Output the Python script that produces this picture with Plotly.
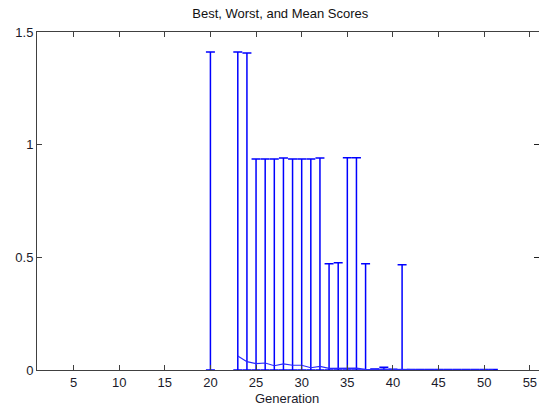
import plotly.graph_objects as go

generations = list(range(20, 52))
mean_score = [0.0, None, None, 0.062, 0.037, 0.028, 0.031, 0.019, 0.027, 0.021, 0.021, 0.010,
              0.016, 0.007, 0.007, 0.008, 0.008, 0.003, 0.002, 0.005, 0.002, 0.003,
              0.001, 0.001, 0.001, 0.001, 0.001, 0.001, 0.001, 0.001, 0.001, 0.001]
best_score = [0.0, None, None] + [0.0] * 29
worst_score = [1.411, None, None, 1.411, 1.407, 0.936, 0.936, 0.936, 0.941, 0.936, 0.936, 0.936,
               0.941, 0.472, 0.476, 0.942, 0.942, 0.472, 0.004, 0.012, 0.003, 0.467,
               0.002, 0.002, 0.002, 0.002, 0.002, 0.002, 0.002, 0.002, 0.002, 0.002]

x_ticks = [5, 10, 15, 20, 25, 30, 35, 40, 45, 50, 55]
y_ticks = [0, 0.5, 1, 1.5]
y_tick_labels = ["0", "0.5", "1", "1.5"]

up = [(w - m) if (w is not None and m is not None) else 0 for w, m in zip(worst_score, mean_score)]
down = [(m - b) if (b is not None and m is not None) else 0 for b, m in zip(best_score, mean_score)]

fig = go.Figure()
fig.add_trace(go.Scatter(
    x=generations, y=mean_score, mode="lines",
    line=dict(color="rgb(40,40,255)", width=1.2),
    connectgaps=False,
    error_y=dict(type="data", symmetric=False, array=up, arrayminus=down,
                 color="rgb(0,0,255)", thickness=1.5, width=4.5),
    showlegend=False,
))
# invisible trace to carry the right-hand y ticks
fig.add_trace(go.Scatter(x=[1], y=[0], yaxis="y2", mode="markers",
                         marker=dict(opacity=0), showlegend=False, hoverinfo="skip"))

axis_font = dict(family="Liberation Sans, Arial, sans-serif", size=13, color="#1a1a2a")
fig.update_layout(
    width=539, height=407,
    margin=dict(l=37, r=0, t=32, b=37),
    paper_bgcolor="white", plot_bgcolor="white",
    title=dict(text="Best, Worst, and Mean Scores", x=0.52, xref="container", xanchor="center",
               y=0.968, yref="container", yanchor="middle",
               font=dict(family="Liberation Sans, Arial, sans-serif", size=13, color="#111111")),
    xaxis=dict(range=[1, 56], tickvals=x_ticks, ticks="inside", ticklen=5, tickcolor="#404040",
               showline=True, linecolor="#404040", linewidth=1, mirror="ticks",
               showgrid=False, zeroline=False, tickfont=axis_font),
    yaxis=dict(range=[0, 1.5], tickvals=y_ticks, ticktext=y_tick_labels, ticks="inside",
               ticklen=5, tickcolor="#404040", showline=True, linecolor="#404040", linewidth=1,
               showgrid=False, zeroline=False, tickfont=axis_font),
    yaxis2=dict(range=[0, 1.5], overlaying="y", side="right", tickvals=[0.5, 1],
                ticks="inside", ticklen=5, tickcolor="#202020", showticklabels=False,
                showline=False, showgrid=False, zeroline=False),
    annotations=[dict(text="Generation", x=(287 - 37) / 502, xref="paper",
                      y=-(398 - 370) / 338, yref="paper", xanchor="center", yanchor="middle",
                      showarrow=False, font=axis_font)],
)
fig.write_html("out.html")
